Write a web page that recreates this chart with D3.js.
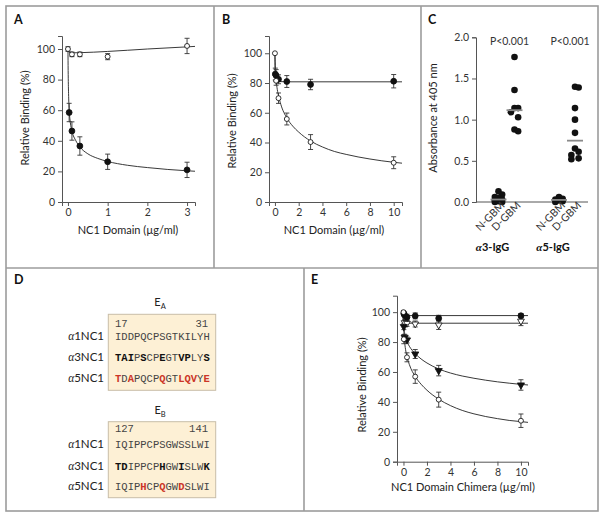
<!DOCTYPE html>
<html><head><meta charset="utf-8">
<script src="https://cdn.jsdelivr.net/npm/d3@7"></script>
<style>body{margin:0;background:#fff}</style>
</head><body>
<script>
// ================= DATA =================
// Panel A
const aOpenX   = [0, 0.1, 0.3, 1, 3];
const aOpenY   = [100, 96.5, 96.5, 95, 102];
const aOpenErr = [1.5, 1.5, 1.5, 2, 5];
const aFilledX   = [0.03, 0.1, 0.3, 1, 3];
const aFilledY   = [58.5, 46.4, 36.6, 26.3, 21];
const aFilledErr = [6, 6, 6, 5, 5];
const aOpenFitX = [0, 0.01, 0.03, 0.1, 0.3, 1, 2, 3, 3.2];
const aOpenFitY = [100, 98.6, 97.8, 97.5, 97.6, 98.4, 100, 101.4, 101.7];
const aFilledFitX = [0, 0.005, 0.015, 0.03, 0.06, 0.1, 0.2, 0.3, 0.5, 0.75, 1, 1.5, 2, 2.5, 3, 3.2];
const aFilledFitY = [100, 86, 71, 61, 52, 46.5, 40, 36, 31.5, 28.5, 26.5, 24, 22.5, 21.3, 20.4, 20.1];
const aXTicks = [0, 1, 2, 3];
const yTicksPct = [0, 20, 40, 60, 80, 100];

// Panel B
const bOpenX   = [0, 0.1, 0.3, 1, 3, 10];
const bOpenY   = [100, 81.5, 69.8, 55.8, 40.3, 26.4];
const bOpenErr = [0, 3, 3.5, 4, 5, 4];
const bFilledX   = [0.03, 0.1, 0.3, 1, 3, 10];
const bFilledY   = [86, 85, 82.5, 81, 79, 81.2];
const bFilledErr = [4, 4, 3, 4, 3.5, 4.5];
const bOpenFitX = [0, 0.03, 0.1, 0.2, 0.3, 0.5, 1, 1.5, 2, 3, 4, 5, 6, 7, 8, 9, 10, 10.7];
const bOpenFitY = [100, 90, 82, 75.5, 71.5, 65.5, 56.5, 51, 47, 41, 37, 34, 32, 30.3, 28.9, 27.7, 26.7, 26.1];
const bFilledFitX = [0, 0.01, 0.03, 0.1, 0.3, 1, 3, 10, 10.7];
const bFilledFitY = [100, 92, 86, 82.5, 81, 80.8, 80.8, 80.8, 80.8];
const bXTicks = [0, 2, 4, 6, 8, 10];

// Panel C
const cGroups = ["α3-IgG", "α5-IgG"];
const cCats = ["N-GBM", "D-GBM"];
const cA3N = [0.13, 0.09, 0.06, 0.05, 0.03, 0.02, 0.01, 0.0, 0.0];
const cA3D = [1.76, 1.36, 1.14, 1.14, 1.09, 1.03, 0.88, 0.86];
const cA5N = [0.06, 0.04, 0.03, 0.02, 0.01, 0.0];
const cA5D = [1.40, 1.39, 1.14, 1.00, 0.84, 0.65, 0.61, 0.57, 0.53, 0.52];
const cPLabels = ["P<0.001", "P<0.001"];
const cYTicks = [0, 0.5, 1.0, 1.5, 2.0];

// Panel D
const dRowLabels = ["1NC1", "3NC1", "5NC1"];
const eaRange = ["17", "31"];
const ebRange = ["127", "141"];
const eaSeq = ["IDDPQCPSGTKILYH", "TAIPSCPEGTVPLYS", "TDAPQCPQGTLQVYE"];
const ebSeq = ["IQIPPCPSGWSSLWI", "TDIPPCPHGWISLWK", "IQIPHCPQGWDSLWI"];

// Panel E
const e1X = [0.03, 0.1, 0.3, 1, 3, 10];
const e1Y = [99, 98, 96.6, 97.5, 95.9, 97.6];
const e1Err = [1.5, 2, 2, 2, 2, 1.5];
const e2X = [0.03, 0.1, 0.3, 1, 3, 10];
const e2Y = [90.3, 83.2, 81.4, 72, 60.9, 51.3];
const e2Err = [2, 2, 2, 3, 3.5, 3.5];
const e3X = [0.1, 0.3, 1, 3, 10];
const e3Y = [93, 92.5, 92.1, 91.4, 94];
const e3Err = [2, 2, 2, 3, 3];
const e4X = [0, 0.03, 0.3, 1, 3, 10];
const e4Y = [100, 81.9, 69.8, 56.9, 41.5, 27.4];
const e4Err = [1, 3, 3, 4.5, 5, 4.5];
const e1FitX = [0, 0.01, 0.03, 0.1, 0.3, 1, 10.6];
const e1FitY = [100, 98.5, 97.9, 97.7, 97.7, 97.7, 97.7];
const e3FitX = [0, 0.01, 0.03, 0.1, 0.3, 1, 10.6];
const e3FitY = [100, 96.5, 94, 92.8, 92.6, 92.6, 92.6];
const e2FitX = [0, 0.03, 0.1, 0.2, 0.3, 0.5, 1, 1.5, 2, 3, 4, 5, 6, 7, 8, 9, 10, 10.6];
const e2FitY = [100, 91, 86, 82.5, 80.3, 77.2, 72.3, 68.7, 66, 62, 59.3, 57.3, 55.8, 54.5, 53.4, 52.5, 51.7, 51.3];
const e4FitX = [0, 0.03, 0.1, 0.2, 0.3, 0.5, 1, 1.5, 2, 3, 4, 5, 6, 7, 8, 9, 10, 10.6];
const e4FitY = [100, 88, 80, 74, 70.3, 65, 57, 51.8, 47.8, 41.8, 37.5, 34.3, 32, 30.2, 28.8, 27.6, 26.8, 26.3];

// ================= DRAWING =================
const FONT = "Lato, 'Open Sans', 'DejaVu Sans', sans-serif";
const MONO = "'Liberation Mono', 'DejaVu Sans Mono', monospace";
const svg = d3.select("body").append("svg")
  .attr("width", 605).attr("height", 518)
  .style("font-family", FONT);

// Frame
const frameCol = "#9c9c9c";
svg.append("rect").attr("x", 6).attr("y", 6).attr("width", 592).attr("height", 505)
  .attr("fill", "none").attr("stroke", frameCol).attr("stroke-width", 1.6);
[[214, 6, 214, 268], [421, 6, 421, 268], [6, 268, 598, 268], [304, 268, 304, 511]].forEach(l =>
  svg.append("line").attr("x1", l[0]).attr("y1", l[1]).attr("x2", l[2]).attr("y2", l[3])
    .attr("stroke", frameCol).attr("stroke-width", 1.6));

// Panel letters
[["A", 14, 24], ["B", 222, 24], ["C", 428, 24], ["D", 14, 284], ["E", 311, 284]].forEach(p =>
  svg.append("text").attr("x", p[1]).attr("y", p[2]).text(p[0])
    .attr("font-size", 12.5).attr("font-weight", "bold").attr("fill", "#111"));

const markers = {
  circleOpen: { shape: d3.symbolCircle, size: 19, fill: "#fff", rot: 0 },
  circleFilled: { shape: d3.symbolCircle, size: 27, fill: "#111", rot: 0 },
  triDownFilled: { shape: d3.symbolTriangle, size: 22, fill: "#111", rot: 180 },
  triDownOpen: { shape: d3.symbolTriangle, size: 20, fill: "#fff", rot: 180 }
};

function styleAxis(ax) {
  ax.attr("font-family", FONT).attr("font-size", 10.5);
  ax.select(".domain").attr("stroke", "#555").attr("stroke-width", 1);
  ax.selectAll(".tick line").attr("stroke", "#555");
  ax.selectAll(".tick text").attr("fill", "#333");
}

function xyPanel(cfg) {
  const g = svg.append("g");
  const x = d3.scaleLinear().domain(cfg.xDomain).range(cfg.xRange);
  const y = d3.scaleLinear().domain(cfg.yDomain).range(cfg.yRange);
  const xa = g.append("g").attr("transform", `translate(0,${cfg.yRange[0]})`)
    .call(d3.axisBottom(x).tickValues(cfg.xTicks).tickFormat(d3.format("d"))
      .tickSizeOuter(0).tickSize(4).tickPadding(3));
  styleAxis(xa);
  const ya = g.append("g").attr("transform", `translate(${cfg.xRange[0]},0)`)
    .call(d3.axisLeft(y).tickValues(cfg.yTicks).tickFormat(d3.format("d"))
      .tickSizeOuter(0).tickSize(4).tickPadding(3));
  styleAxis(ya);
  // titles
  g.append("text").attr("x", cfg.xTitlePos[0]).attr("y", cfg.xTitlePos[1])
    .attr("text-anchor", "middle").attr("font-size", 11).attr("fill", "#222").text(cfg.xTitle);
  g.append("text").attr("transform", `translate(${cfg.yTitlePos[0]},${cfg.yTitlePos[1]}) rotate(-90)`)
    .attr("text-anchor", "middle").attr("dy", "0.35em").attr("font-size", 11).attr("fill", "#222").text(cfg.yTitle);
  const line = d3.line().x(d => x(d[0])).y(d => y(d[1])).curve(d3.curveMonotoneX);
  cfg.series.forEach(s => {
    g.append("path").datum(d3.zip(s.fitX, s.fitY)).attr("d", line)
      .attr("fill", "none").attr("stroke", "#222").attr("stroke-width", 0.9);
  });
  cfg.series.forEach(s => {
    const pts = d3.zip(s.x, s.y, s.err);
    const eb = g.append("g").attr("stroke", "#333").attr("stroke-width", 0.9);
    pts.filter(d => d[2] > 0).forEach(d => {
      const px = x(d[0]), y1 = y(d[1] + d[2]), y2 = y(d[1] - d[2]);
      eb.append("line").attr("x1", px).attr("x2", px).attr("y1", y1).attr("y2", y2);
      eb.append("line").attr("x1", px - 2.5).attr("x2", px + 2.5).attr("y1", y1).attr("y2", y1);
      eb.append("line").attr("x1", px - 2.5).attr("x2", px + 2.5).attr("y1", y2).attr("y2", y2);
    });
  });
  cfg.series.forEach(s => {
    const m = markers[s.marker];
    const pts = d3.zip(s.x, s.y);
    g.append("g").selectAll("path").data(pts).join("path")
      .attr("d", d3.symbol().type(m.shape).size(m.size))
      .attr("transform", d => `translate(${x(d[0])},${y(d[1])}) rotate(${m.rot})`)
      .attr("fill", m.fill).attr("stroke", "#111").attr("stroke-width", 0.85);
  });
}

// Panel A
xyPanel({
  xDomain: [-0.15, 3.2], xRange: [62, 195],
  yDomain: [0, 108.5], yRange: [202, 36],
  xTicks: aXTicks, yTicks: yTicksPct,
  xTitle: "NC1 Domain (µg/ml)", xTitlePos: [128, 234],
  yTitle: "Relative Binding (%)", yTitlePos: [25, 118],
  series: [
    { x: aOpenX, y: aOpenY, err: aOpenErr, fitX: aOpenFitX, fitY: aOpenFitY, marker: "circleOpen" },
    { x: aFilledX, y: aFilledY, err: aFilledErr, fitX: aFilledFitX, fitY: aFilledFitY, marker: "circleFilled" }
  ]
});

// Panel B
xyPanel({
  xDomain: [-0.5, 10.7], xRange: [269, 402],
  yDomain: [0, 111.6], yRange: [202, 36],
  xTicks: bXTicks, yTicks: yTicksPct,
  xTitle: "NC1 Domain (µg/ml)", xTitlePos: [334, 234],
  yTitle: "Relative Binding (%)", yTitlePos: [232, 121],
  series: [
    { x: bFilledX, y: bFilledY, err: bFilledErr, fitX: bFilledFitX, fitY: bFilledFitY, marker: "circleFilled" },
    { x: bOpenX, y: bOpenY, err: bOpenErr, fitX: bOpenFitX, fitY: bOpenFitY, marker: "circleOpen" }
  ]
});

// Panel E
xyPanel({
  xDomain: [-0.55, 10.6], xRange: [397, 528],
  yDomain: [0, 111], yRange: [461.7, 295.7],
  xTicks: bXTicks, yTicks: yTicksPct,
  xTitle: "NC1 Domain Chimera (µg/ml)", xTitlePos: [463, 491],
  yTitle: "Relative Binding (%)", yTitlePos: [362, 385],
  series: [
    { x: e1X, y: e1Y, err: e1Err, fitX: e1FitX, fitY: e1FitY, marker: "circleFilled" },
    { x: e3X, y: e3Y, err: e3Err, fitX: e3FitX, fitY: e3FitY, marker: "triDownOpen" },
    { x: e2X, y: e2Y, err: e2Err, fitX: e2FitX, fitY: e2FitY, marker: "triDownFilled" },
    { x: e4X, y: e4Y, err: e4Err, fitX: e4FitX, fitY: e4FitY, marker: "circleOpen" }
  ]
});

// Panel C
(function () {
  const g = svg.append("g");
  const y = d3.scaleLinear().domain([0, 2]).range([202, 37.3]);
  const gx = d3.scalePoint().domain(cGroups).range([506.5, 567]);
  const sx = d3.scalePoint().domain(cCats).range([-8, 8]);
  const ya = g.append("g").attr("transform", "translate(476,0)")
    .call(d3.axisLeft(y).tickValues(cYTicks).tickFormat(d3.format(".1f")).tickSizeOuter(0).tickSize(4).tickPadding(3));
  styleAxis(ya);
  g.append("line").attr("x1", 476).attr("x2", 588).attr("y1", 202).attr("y2", 202)
    .attr("stroke", "#555").attr("stroke-width", 1);
  g.append("text").attr("transform", "translate(433,118) rotate(-90)")
    .attr("text-anchor", "middle").attr("dy", "0.35em").attr("font-size", 11).attr("fill", "#222")
    .text("Absorbance at 405 nm");
  const sets = [
    { grp: cGroups[0], cat: cCats[0], vals: cA3N },
    { grp: cGroups[0], cat: cCats[1], vals: cA3D },
    { grp: cGroups[1], cat: cCats[0], vals: cA5N },
    { grp: cGroups[1], cat: cCats[1], vals: cA5D }
  ];
  const r = 3.3;
  sets.forEach(s => {
    const cxp = gx(s.grp) + sx(s.cat);
    const placed = [];
    s.vals.slice().sort((a, b) => b - a).forEach(v => {
      const py = y(v);
      let best = null, bestD = -1;
      for (const k of [0, 1, -1]) {
        const px = cxp + k * r * 1.1;
        const dmin = placed.length ? d3.min(placed, p => Math.hypot(p[0] - px, p[1] - py)) : Infinity;
        if (dmin >= 2 * r * 0.95) { best = px; bestD = dmin; break; }
        if (dmin > bestD) { bestD = dmin; best = px; }
      }
      placed.push([best, py]);
    });
    g.append("g").selectAll("circle").data(placed).join("circle")
      .attr("cx", d => d[0]).attr("cy", d => d[1]).attr("r", r).attr("fill", "#111");
    const med = d3.median(s.vals);
    g.append("line").attr("x1", cxp - 8).attr("x2", cxp + 8).attr("y1", y(med)).attr("y2", y(med))
      .attr("stroke", "#8a8a8a").attr("stroke-width", 1.8);
    g.append("text").attr("transform", `translate(${cxp + 7},206) rotate(-45)`)
      .attr("text-anchor", "end").attr("font-size", 10.5).attr("fill", "#333").text(s.cat);
  });
  cGroups.forEach((grp, i) => {
    g.append("text").attr("x", gx(grp) + 3).attr("y", 45).attr("text-anchor", "middle")
      .attr("font-size", 10.5).attr("fill", "#333").text(cPLabels[i]);
    const t = g.append("text").attr("x", gx(grp) - 14).attr("y", 251).attr("text-anchor", "middle")
      .attr("font-size", 11).attr("font-weight", "bold").attr("fill", "#111");
    t.append("tspan").attr("font-style", "italic").attr("font-family", "'Liberation Serif', serif").text(grp.slice(0, 1));
    t.append("tspan").text(grp.slice(1));
  });
})();

// Panel D
(function () {
  const g = svg.append("g");
  const blocks = [
    { sub: "A", range: eaRange, seqs: eaSeq, labelY: 305.5, boxY: 314.3, numY: 327, rowY: [339.5, 361, 382] },
    { sub: "B", range: ebRange, seqs: ebSeq, labelY: 414, boxY: 421.7, numY: 432, rowY: [448, 469.5, 490] }
  ];
  const boxX = 108.3, boxW = 107.4, boxH = 76, seqX = 115, seqEnd = 208;
  blocks.forEach(b => {
    const lab = g.append("text").attr("x", 160).attr("y", b.labelY).attr("text-anchor", "middle")
      .attr("font-size", 11).attr("fill", "#222");
    lab.append("tspan").text("E");
    lab.append("tspan").attr("font-size", 7.5).attr("dy", 3).text(b.sub);
    g.append("rect").attr("x", boxX).attr("y", b.boxY).attr("width", boxW).attr("height", boxH)
      .attr("fill", "#fdf0d5").attr("stroke", "#c8bda8").attr("stroke-width", 1);
    g.append("text").attr("x", seqX).attr("y", b.numY).attr("font-family", MONO).attr("font-size", 10.5)
      .attr("fill", "#444").text(b.range[0]);
    g.append("text").attr("x", seqEnd).attr("y", b.numY).attr("text-anchor", "end").attr("font-family", MONO)
      .attr("font-size", 10.5).attr("fill", "#444").text(b.range[1]);
    const ref = b.seqs[0];
    b.seqs.forEach((seq, i) => {
      const rl = g.append("text").attr("x", 104).attr("y", b.rowY[i]).attr("text-anchor", "end")
        .attr("font-size", 11.5).attr("fill", "#222");
      rl.append("tspan").attr("font-style", "italic").attr("font-family", "'Liberation Serif', serif").text("α");
      rl.append("tspan").text(dRowLabels[i]);
      const t = g.append("text").attr("x", seqX).attr("y", b.rowY[i]).attr("font-family", MONO)
        .attr("font-size", 10.5);
      seq.split("").forEach((ch, k) => {
        const diff = i > 0 && ch !== ref[k];
        t.append("tspan").text(ch)
          .attr("font-weight", diff ? "bold" : "normal")
          .attr("fill", diff ? (i === 2 ? "#cc3527" : "#111") : "#444");
      });
    });
  });
})();
</script>
</body></html>
